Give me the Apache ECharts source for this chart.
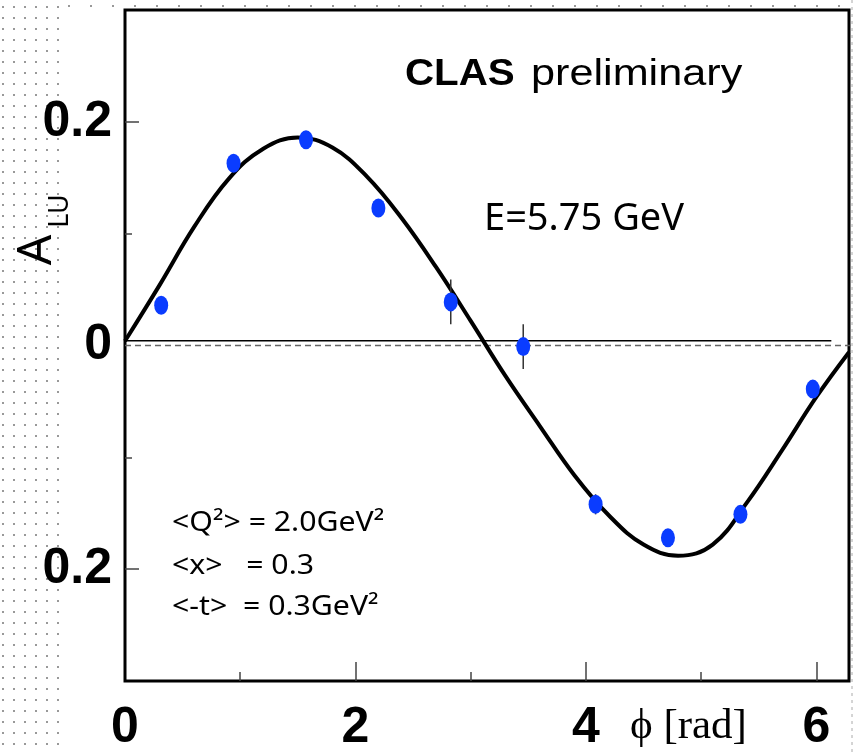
<!DOCTYPE html>
<html><head><meta charset="utf-8">
<script src="https://cdn.jsdelivr.net/npm/echarts@6/dist/echarts.min.js"></script>
<style>html,body{margin:0;padding:0;background:#fff}#c{width:853px;height:753px}</style>
</head><body><div id="c"></div>
<script>
// ---- data ----
const phiBins = [0.314, 0.942, 1.571, 2.199, 2.827, 3.456, 4.084, 4.712, 5.341, 5.969];
const asym    = [0.036, 0.163, 0.184, 0.123, 0.039, -0.001, -0.142, -0.172, -0.151, -0.039];
const asymErr = [0.006, 0.006, 0.006, 0.006, 0.020, 0.020, 0.009, 0.006, 0.006, 0.006];
const fitPhi  = [0, 0.3, 0.6, 0.9, 1.2, 1.5, 1.8, 2.1, 2.4, 2.7, 3.0, 3.3, 3.6, 3.9, 4.2, 4.5, 4.8, 5.1, 5.4, 5.7, 6.0, 6.283];
const fitVal  = [0.004, 0.054, 0.106, 0.149, 0.176, 0.186, 0.177, 0.151, 0.114, 0.070, 0.022, -0.027, -0.072, -0.116, -0.152, -0.178, -0.188, -0.178, -0.140, -0.094, -0.046, -0.006];
const xLabelValues = [0, 2, 4, 6];
const xMajorTicks = [2, 4, 6];
const xMinorTicks = [1, 3, 5];
const yLabelValues = [-0.2, 0, 0.2];
const yMajorTicks = [-0.2, 0.2];
const yMinorTicks = [-0.1, 0.1];
const zeroRef = 0.0042;
const X_MAX = 2 * Math.PI;

const tickFont = {fontFamily: "'Liberation Sans Narrow','Liberation Sans',Arial,sans-serif", fontWeight: 'bold', fontSize: 50, color: '#000'};

// decorative dotted border
const deco = [];
for (let c = 0; c < 6; c++) {
  for (let r = 0; r < 69; r++) {
    deco.push({type: 'rect', silent: true, shape: {x: 2 + c * 11, y: 6 + r * 11, width: 2, height: 2}, style: {fill: '#999'}});
  }
}
for (let k = 0; k < 36; k++) {
  deco.push({type: 'rect', silent: true, shape: {x: 68 + k * 22, y: 5, width: 2, height: 2}, style: {fill: '#999'}});
}
deco.push({type: 'line', silent: true, shape: {x1: 852, y1: 0, x2: 852, y2: 753}, style: {stroke: '#aaa', lineWidth: 1, lineDash: [3, 4]}});

const chart = echarts.init(document.getElementById('c'), null, {renderer: 'canvas'});
chart.setOption({
  backgroundColor: '#fff',
  animation: false,
  grid: {left: 125, top: 10, right: 4, bottom: 67, show: true, borderColor: '#000', borderWidth: 3, backgroundColor: 'transparent'},
  xAxis: [
    {type: 'value', min: 0, max: X_MAX, interval: 1, position: 'bottom',
     axisLine: {show: false, onZero: false}, splitLine: {show: false},
     axisTick: {show: true, inside: true, length: 19, customValues: xMajorTicks, lineStyle: {color: '#444', width: 1.5}},
     axisLabel: {show: true, customValues: xLabelValues, margin: 22, formatter: v => String(Math.round(v)), ...tickFont}},
    {type: 'value', min: 0, max: X_MAX, interval: 1, position: 'bottom',
     axisLine: {show: false, onZero: false}, splitLine: {show: false},
     axisTick: {show: true, inside: true, length: 9, customValues: xMinorTicks, lineStyle: {color: '#444', width: 1.5}},
     axisLabel: {show: false}}
  ],
  yAxis: [
    {type: 'value', min: -0.3, max: 0.3, interval: 0.1, position: 'left',
     axisLine: {show: false, onZero: false}, splitLine: {show: false},
     axisTick: {show: true, inside: true, length: 14, customValues: yMajorTicks, lineStyle: {color: '#444', width: 1.5}},
     axisLabel: {show: true, customValues: yLabelValues, margin: 13, formatter: v => (Math.abs(v) < 1e-9 ? '0' : Math.abs(v).toFixed(1)), ...tickFont}},
    {type: 'value', min: -0.3, max: 0.3, interval: 0.1, position: 'left',
     axisLine: {show: false, onZero: false}, splitLine: {show: false},
     axisTick: {show: true, inside: true, length: 7, customValues: yMinorTicks, lineStyle: {color: '#444', width: 1.5}},
     axisLabel: {show: false}}
  ],
  series: [
    {type: 'line', name: 'zero', data: [[0, 0], [6.31, 0]], clip: false, showSymbol: false, silent: true,
     lineStyle: {color: '#666', width: 1.3, type: [6, 4]}, z: 1},
    {type: 'line', name: 'ref', data: [[-0.104, zeroRef], [6.13, zeroRef]], clip: false, showSymbol: false, silent: true,
     lineStyle: {color: '#000', width: 1.6}, z: 2},
    {type: 'line', name: 'fit', data: fitPhi.map((p, i) => [p, fitVal[i]]), showSymbol: false, smooth: 0.4,
     lineStyle: {color: '#000', width: 4}, z: 3},
    {type: 'custom', name: 'err', data: phiBins.map((p, i) => [p, asym[i], asymErr[i]]), z: 4,
     renderItem: function (params, api) {
       const x = api.value(0), y = api.value(1), e = api.value(2);
       const a = api.coord([x, y + e]), b = api.coord([x, y - e]);
       return {type: 'line', shape: {x1: a[0], y1: a[1], x2: b[0], y2: b[1]}, style: {stroke: '#333', lineWidth: 1.5}};
     }},
    {type: 'scatter', name: 'data', data: phiBins.map((p, i) => [p, asym[i]]), symbol: 'circle', symbolSize: [14, 19],
     itemStyle: {color: '#0a3cff', opacity: 1}, z: 5}
  ],
  graphic: deco.concat([
    {type: 'text', x: 405, y: 75, scaleX: 1.12, silent: true,
     style: {text: 'CLAS', fontFamily: "'Liberation Sans',Arial,sans-serif", fontWeight: 'bold', fontSize: 36, fill: '#000', align: 'left', verticalAlign: 'middle'}},
    {type: 'text', x: 531, y: 75, scaleX: 1.2, silent: true,
     style: {text: 'preliminary', fontFamily: "'Liberation Sans',Arial,sans-serif", fontSize: 36, fill: '#000', align: 'left', verticalAlign: 'middle'}},
    {type: 'text', x: 484, y: 219, silent: true,
     style: {text: 'E=5.75 GeV', fontFamily: "'Noto Sans',sans-serif", fontSize: 38, fill: '#000', align: 'left', verticalAlign: 'middle'}},
    {type: 'text', x: 172, y: 523, scaleX: 1.12, silent: true,
     style: {text: '<Q²> = 2.0GeV²', fontFamily: "'Noto Sans',sans-serif", fontSize: 27, fill: '#000', align: 'left', verticalAlign: 'middle'}},
    {type: 'text', x: 172, y: 566, scaleX: 1.12, silent: true,
     style: {text: '<x>   = 0.3', fontFamily: "'Noto Sans',sans-serif", fontSize: 27, fill: '#000', align: 'left', verticalAlign: 'middle'}},
    {type: 'text', x: 172, y: 607, scaleX: 1.12, silent: true,
     style: {text: '<-t>  = 0.3GeV²', fontFamily: "'Noto Sans',sans-serif", fontSize: 27, fill: '#000', align: 'left', verticalAlign: 'middle'}},
    {type: 'text', x: 630, y: 727, silent: true,
     style: {text: 'ϕ [rad]', fontFamily: "'Liberation Serif','Times New Roman',serif", fontSize: 43, fill: '#000', align: 'left', verticalAlign: 'middle'}},
    {type: 'text', x: 37, y: 250, rotation: Math.PI / 2, silent: true,
     style: {text: 'A', fontFamily: "'Noto Sans',sans-serif", fontSize: 48, fill: '#000', align: 'center', verticalAlign: 'middle'}},
    {type: 'text', x: 60, y: 211, rotation: Math.PI / 2, silent: true,
     style: {text: 'LU', fontFamily: "'Noto Sans',sans-serif", fontSize: 27, fill: '#000', align: 'center', verticalAlign: 'middle'}}
  ])
});
</script></body></html>
